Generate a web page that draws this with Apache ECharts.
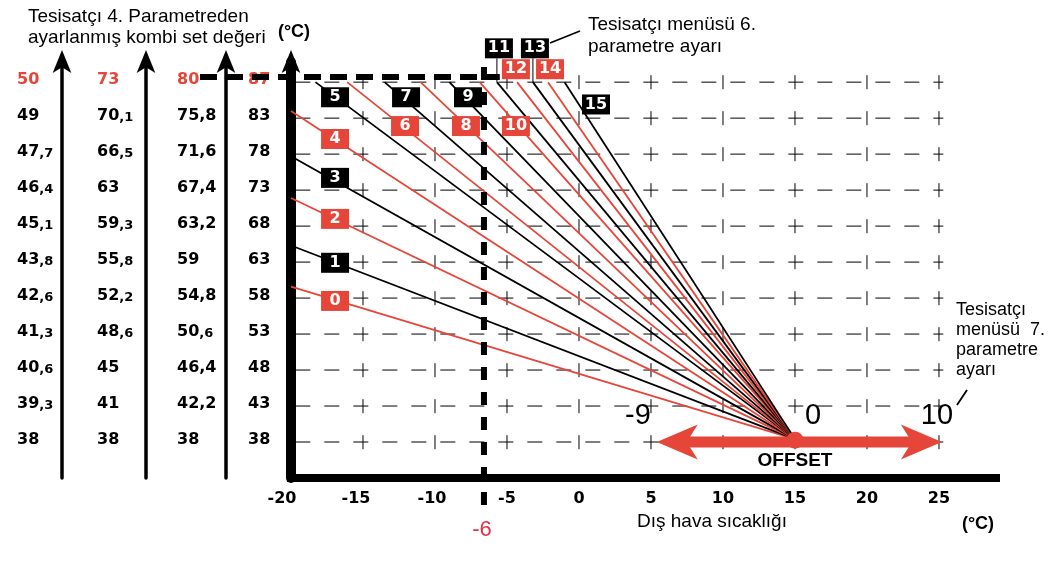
<!DOCTYPE html>
<html><head><meta charset="utf-8">
<script src="https://cdn.jsdelivr.net/npm/echarts@6/dist/echarts.min.js"></script>
<style>html,body{margin:0;padding:0;background:#fff}#chart{width:1062px;height:564px}</style>
</head><body><div id="chart"></div>
<script>
// ---------------- data ----------------
const xTicks = [-20, -15, -10, -5, 0, 5, 10, 15, 20, 25];
const yTicks = [38, 43, 48, 53, 58, 63, 68, 73, 78, 83, 88];          // gridline temperatures (main axis)
const col1Labels = ['38', '39,3', '40,6', '41,3', '42,6', '43,8', '45,1', '46,4', '47,7', '49', '50'];
const col2Labels = ['38', '41', '45', '48,6', '52,2', '55,8', '59,3', '63', '66,5', '70,1', '73'];
const col3Labels = ['38', '42,2', '46,4', '50,6', '54,8', '59', '63,2', '67,4', '71,6', '75,8', '80'];
const col4Labels = ['38', '43', '48', '53', '58', '63', '68', '73', '78', '83', '87'];
const curveIds = [0, 1, 2, 3, 4, 5, 6, 7, 8, 9, 10, 11, 12, 13, 14, 15];
const curveStartX = [-20, -20, -20, -20, -20, -18.3, -16.1, -13.5, -11.0, -9.0, -6.9, -5.7, -4.3, -3.2, -2.15, -1.0];
const curveStartY = [59.6, 65.3, 71.9, 77.7, 84.0, 88, 88, 88, 88, 88, 88, 88, 88, 88, 88, 88];
const pivotPoint = [15, 38.4];
const designOutdoorLabel = '-6';
const designOutdoorX = -6.6;
const maxFlowY = 88.7;
const offsetScaleLabels = ['-9', '0', '10'];
const offsetRange = [5.4, 25.2];
const offsetY = 38;

// ---------------- layout ----------------
const RED = '#e6463a';
const labelAt = [[-16.94, 57.6], [-16.94, 62.9], [-16.94, 69.0], [-16.94, 74.7], [-16.94, 80.1], [-16.94, 85.9],
  [-12.08, 81.9], [-12.01, 85.9], [-7.85, 81.9], [-7.71, 85.9], [-4.38, 81.9], [-5.56, 92.7], [-4.38, 89.8],
  [-3.06, 92.7], [-2.01, 89.8], [1.18, 84.9]];
const leaderCurves = [11, 13];
const leaderTopY = 91.3;
const vGridSpan = [90.36, 34.1];
const hGridSpan = [-19.7, 25.3];
const markerHSpan = [-26.32, -5.5];
const markerVSpan = [90.1, 27.6];
const NUMFONT = 'DejaVu Sans';

function yIndex(v) {
  const i = Math.round((v - 38) / 5);
  return (Math.abs(v - (38 + 5 * i)) < 1e-6 && i >= 0 && i <= 10) ? i : -1;
}
function fmtLabel(s, small, red) {
  if (red) return '{r|' + s + '}';
  const k = s.indexOf(',');
  if (k < 0 || !small) return '{b|' + s + '}';
  return '{b|' + s.slice(0, k) + '}{s|' + s.slice(k) + '}';
}
const rich = {
  b: { fontFamily: NUMFONT, fontWeight: 'bold', fontSize: 16, color: '#000', lineHeight: 20, verticalAlign: 'bottom' },
  s: { fontFamily: NUMFONT, fontWeight: 'bold', fontSize: 13, color: '#000', lineHeight: 20, verticalAlign: 'bottom' },
  r: { fontFamily: NUMFONT, fontWeight: 'bold', fontSize: 16, color: RED, lineHeight: 20, verticalAlign: 'bottom' }
};
function makeYAxis(labels, smallFn, offset, margin, lineWidth) {
  return {
    type: 'value', min: 33, max: 90.8, interval: 5, position: 'left', offset: offset,
    splitLine: { show: false }, axisTick: { show: false },
    axisLine: { show: true, onZero: false, lineStyle: { color: '#000', width: lineWidth },
      symbol: ['none', 'arrow'], symbolSize: [14, 23], symbolOffset: [0, 12] },
    axisLabel: {
      customValues: yTicks, align: 'left', margin: margin, padding: [0, 0, 8, 0], rich: rich,
      formatter: function (v) {
        const i = yIndex(v);
        if (i < 0) return '';
        return fmtLabel(labels[i], smallFn(labels[i]), i === 10);
      }
    }
  };
}

const series = [];
xTicks.slice(1).forEach(function (x) {
  series.push({ type: 'line', data: [[x, vGridSpan[0]], [x, vGridSpan[1]]], symbol: 'none', silent: true, z: 1,
    animation: false, lineStyle: { color: '#000', width: 1, type: [14, 22], dashOffset: 26 } });
});
yTicks.forEach(function (y) {
  series.push({ type: 'line', data: [[hGridSpan[0], y], [hGridSpan[1], y]], symbol: 'none', silent: true, z: 1,
    animation: false, lineStyle: { color: '#000', width: 1, type: [15, 14] } });
});
curveIds.forEach(function (id, i) {
  series.push({ type: 'line', name: 'Eğri ' + id, data: [[curveStartX[i], curveStartY[i]], pivotPoint],
    symbol: 'none', z: 3, animation: false,
    lineStyle: { color: i % 2 ? '#000' : RED, width: 1.8 } });
});
series.push({ type: 'scatter', z: 7, symbolSize: 1, clip: false, animation: false, silent: true,
  itemStyle: { color: 'transparent', opacity: 1 },
  data: curveIds.map(function (id, i) { return { value: labelAt[i], label: { backgroundColor: i % 2 ? '#000' : RED } }; }),
  label: { show: true, position: 'inside', formatter: function (p) { return String(curveIds[p.dataIndex]); },
    color: '#fff', fontFamily: NUMFONT, fontWeight: 'bold', fontSize: 16, width: 22, align: 'center',
    padding: [2, 3], lineHeight: 16, opacity: 1 } });

const xShift = { '-20': 'l', '-15': 'm', '-10': 'k' };
const xRichBase = { fontFamily: NUMFONT, fontWeight: 'bold', fontSize: 16, color: '#000' };
const annotations = [
  { type: 'text', x: 28, y: 6, z: 10, style: { text: 'Tesisatçı 4. Parametreden\nayarlanmış kombi set değeri',
    font: '19px "Liberation Sans"', lineHeight: 21, fill: '#000', align: 'left', verticalAlign: 'top' } },
  { type: 'text', x: 294, y: 32, z: 10, style: { text: '(°C)', font: 'bold 18px "Liberation Sans"', fill: '#000',
    align: 'center', verticalAlign: 'middle' } },
  { type: 'text', x: 588, y: 14, z: 10, style: { text: 'Tesisatçı menüsü 6.\nparametre ayarı',
    font: '19px "Liberation Sans"', lineHeight: 22, fill: '#000', align: 'left', verticalAlign: 'top' } },
  { type: 'line', z: 10, shape: { x1: 550, y1: 43, x2: 580, y2: 31 }, style: { stroke: '#000', lineWidth: 1.8 } },
  { type: 'text', x: 956, y: 300, z: 10, style: { text: 'Tesisatçı\nmenüsü  7.\nparametre\nayarı',
    font: '18px "Liberation Sans"', lineHeight: 20, fill: '#000', align: 'left', verticalAlign: 'top' } },
  { type: 'line', z: 10, shape: { x1: 957, y1: 405, x2: 967, y2: 390 }, style: { stroke: '#000', lineWidth: 1.8 } },
  { type: 'text', x: 638, y: 416, z: 10, style: { text: offsetScaleLabels[0], font: '29px "Liberation Sans"', fill: '#000',
    align: 'center', verticalAlign: 'middle' } },
  { type: 'text', x: 813, y: 416, z: 10, style: { text: offsetScaleLabels[1], font: '29px "Liberation Sans"', fill: '#000',
    align: 'center', verticalAlign: 'middle' } },
  { type: 'text', x: 937, y: 416, z: 10, style: { text: offsetScaleLabels[2], font: '29px "Liberation Sans"', fill: '#000',
    align: 'center', verticalAlign: 'middle' } },
  { type: 'text', x: 795, y: 461, z: 10, style: { text: 'OFFSET', font: 'bold 19px "Liberation Sans"', fill: '#000',
    align: 'center', verticalAlign: 'middle' } },
  { type: 'text', x: 637, y: 522, z: 10, style: { text: 'Dış hava sıcaklığı', font: '19px "Liberation Sans"', fill: '#000',
    align: 'left', verticalAlign: 'middle' } },
  { type: 'text', x: 978, y: 524, z: 10, style: { text: '(°C)', font: 'bold 18px "Liberation Sans"', fill: '#000',
    align: 'center', verticalAlign: 'middle' } },
  { type: 'text', x: 482, y: 530, z: 10, style: { text: designOutdoorLabel, font: '22px "Liberation Sans"', fill: '#e4314b',
    align: 'center', verticalAlign: 'middle' } }
];

const option = {
  backgroundColor: '#fff',
  animation: false,
  grid: { left: 291, right: 66, top: 62, bottom: 86, containLabel: false },
  xAxis: {
    type: 'value', min: -20, max: 28.96, interval: 5,
    splitLine: { show: false }, axisTick: { show: false },
    axisLine: { onZero: false, lineStyle: { color: '#000', width: 8, cap: 'square' } },
    axisLabel: {
      customValues: xTicks, margin: 13,
      rich: { n: xRichBase,
              l: Object.assign({}, xRichBase, { padding: [0, 18, 0, 0] }),
              m: Object.assign({}, xRichBase, { padding: [0, 14, 0, 0] }),
              k: Object.assign({}, xRichBase, { padding: [0, 6, 0, 0] }) },
      formatter: function (v) {
        if (xTicks.indexOf(v) < 0) return '';
        const s = String(v);
        return '{' + (xShift[s] || 'n') + '|' + s + '}';
      }
    }
  },
  yAxis: [
    makeYAxis(col4Labels, function () { return false; }, 0, 43, 10),
    makeYAxis(col1Labels, function () { return true; }, 229, 45, 3.5),
    makeYAxis(col2Labels, function () { return true; }, 145, 49, 3.5),
    makeYAxis(col3Labels, function (s) { return s === '50,6'; }, 65, 49, 3.5)
  ],
  series: series,
  graphic: annotations
};
const chart = echarts.init(document.getElementById('chart'), null, { renderer: 'canvas' });
chart.setOption(option);

// marks that reach outside the plotting rectangle: placed through the chart's own scales
function px(x, y) { return chart.convertToPixel({ xAxisIndex: 0, yAxisIndex: 0 }, [x, y]); }
const h0 = px(markerHSpan[0], maxFlowY), h1 = px(markerHSpan[1], maxFlowY);
const v0 = px(designOutdoorX, markerVSpan[0]), v1 = px(designOutdoorX, markerVSpan[1]);
const a0 = px(offsetRange[0], offsetY), a1 = px(offsetRange[1], offsetY);
const pv = px(pivotPoint[0], pivotPoint[1]);
const headLen = 41, headHalf = 17.5, notch = 30;
function head(tip, dir) {
  return [[tip[0], tip[1]], [tip[0] + dir * headLen, tip[1] - headHalf], [tip[0] + dir * notch, tip[1]],
          [tip[0] + dir * headLen, tip[1] + headHalf]];
}
const extra = [
  { type: 'line', z: 5, shape: { x1: h0[0], y1: h0[1], x2: h1[0], y2: h1[1] },
    style: { stroke: '#000', lineWidth: 6, lineDash: [17, 9] } },
  { type: 'line', z: 5, shape: { x1: v0[0], y1: v0[1], x2: v1[0], y2: v1[1] },
    style: { stroke: '#000', lineWidth: 6, lineDash: [13, 12] } },
  { type: 'line', z: 4, shape: { x1: a0[0] + notch - 2, y1: a0[1], x2: a1[0] - notch + 2, y2: a1[1] },
    style: { stroke: RED, lineWidth: 11 } },
  { type: 'polygon', z: 4, shape: { points: head(a0, 1) }, style: { fill: RED } },
  { type: 'polygon', z: 4, shape: { points: head(a1, -1) }, style: { fill: RED } },
  { type: 'circle', z: 6, shape: { cx: pv[0], cy: pv[1] + 1, r: 8.5 }, style: { fill: RED } }
];
leaderCurves.forEach(function (id) {
  const b = px(curveStartX[id], curveStartY[id]), t = px(curveStartX[id], leaderTopY);
  extra.push({ type: 'line', z: 3, shape: { x1: b[0], y1: b[1], x2: t[0], y2: t[1] },
    style: { stroke: '#000', lineWidth: 1 } });
});
chart.setOption({ graphic: annotations.concat(extra) });
</script>
</body></html>
